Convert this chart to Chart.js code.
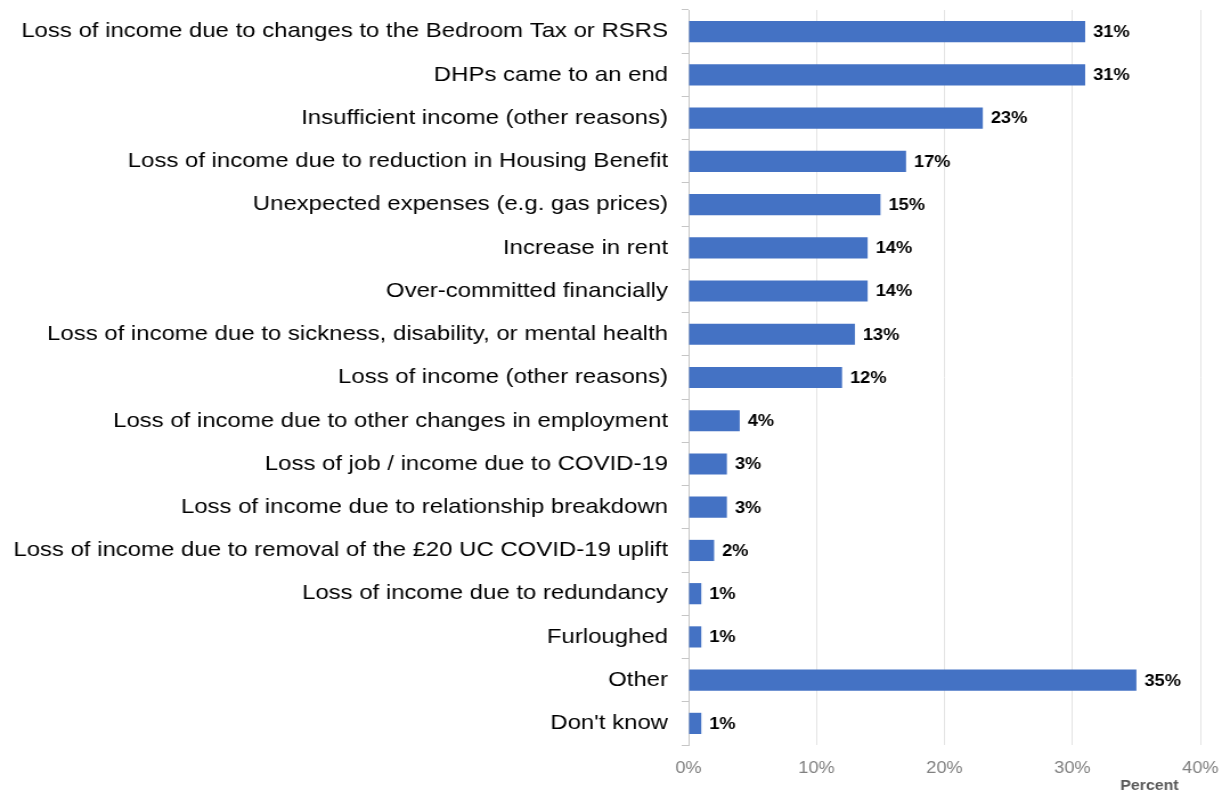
<!DOCTYPE html>
<html>
<head>
<meta charset="utf-8">
<script src="https://cdn.jsdelivr.net/npm/chart.js@4/dist/chart.umd.min.js"></script>
<style>
  html, body { margin: 0; padding: 0; background: #ffffff; overflow: hidden; }
  /* the chart is laid out on a narrower canvas and widened to the full page width */
  #wrap { width: 1072px; height: 792px; transform: scaleX(1.13993); transform-origin: 0 0; }
  #chart { width: 1072px; height: 792px; display: block; }
</style>
</head>
<body>
<div id="wrap"><canvas id="chart" width="1072" height="792"></canvas></div>
<script>
// Reasons given for falling into rent arrears (percent of respondents)
const categories = [
  "Loss of income due to changes to the Bedroom Tax or RSRS",
  "DHPs came to an end",
  "Insufficient income (other reasons)",
  "Loss of income due to reduction in Housing Benefit",
  "Unexpected expenses (e.g. gas prices)",
  "Increase in rent",
  "Over-committed financially",
  "Loss of income due to sickness, disability, or mental health",
  "Loss of income (other reasons)",
  "Loss of income due to other changes in employment",
  "Loss of job / income due to COVID-19",
  "Loss of income due to relationship breakdown",
  "Loss of income due to removal of the £20 UC COVID-19 uplift",
  "Loss of income due to redundancy",
  "Furloughed",
  "Other",
  "Don't know"
];
const percentValues = [31, 31, 23, 17, 15, 14, 14, 13, 12, 4, 3, 3, 2, 1, 1, 35, 1];
const axisTicks = [0, 10, 20, 30, 40];
const axisTitle = "Percent";

const FONT = "'Liberation Sans', Arial, sans-serif";

// Bold value labels drawn just past the end of each bar
const valueLabels = {
  id: 'valueLabels',
  afterDatasetsDraw(chart) {
    const ctx = chart.ctx;
    const meta = chart.getDatasetMeta(0);
    ctx.save();
    ctx.font = "bold 16px " + FONT;
    ctx.fillStyle = '#000000';
    ctx.textAlign = 'left';
    ctx.textBaseline = 'middle';
    meta.data.forEach((bar, i) => {
      ctx.fillText(percentValues[i] + '%', bar.x + 7, bar.y + 1);
    });
    ctx.restore();
  }
};

// Axis title placed under the right end of the value axis
const axisTitlePlugin = {
  id: 'axisTitlePlugin',
  afterDraw(chart) {
    const ctx = chart.ctx;
    const area = chart.chartArea;
    ctx.save();
    ctx.font = "bold 14px " + FONT;
    ctx.fillStyle = '#595959';
    ctx.textAlign = 'right';
    ctx.textBaseline = 'middle';
    ctx.fillText(axisTitle, area.right - 19, 786);
    ctx.restore();
  }
};

new Chart(document.getElementById('chart'), {
  type: 'bar',
  data: {
    labels: categories,
    datasets: [{
      data: percentValues,
      backgroundColor: '#4472C4',
      borderWidth: 0,
      categoryPercentage: 1.0,
      barPercentage: 0.49
    }]
  },
  options: {
    indexAxis: 'y',
    responsive: false,
    animation: false,
    devicePixelRatio: 1,
    layout: { padding: { top: 10, right: 19, left: 0, bottom: 0 } },
    plugins: {
      legend: { display: false },
      tooltip: { enabled: false }
    },
    scales: {
      x: {
        type: 'linear',
        min: axisTicks[0],
        max: axisTicks[axisTicks.length - 1],
        afterBuildTicks(scale) {
          scale.ticks = axisTicks.map(v => ({ value: v }));
        },
        afterFit(scale) {
          scale.height = 47;
          scale.paddingLeft = 0;
          scale.paddingRight = 0;
        },
        grid: {
          color: '#e4e4e4',
          lineWidth: 1,
          drawTicks: false
        },
        border: { display: false },
        ticks: {
          padding: 14,
          color: '#808080',
          font: { family: FONT, size: 16 },
          callback: v => v + '%'
        }
      },
      y: {
        afterFit(scale) {
          scale.width = 604;
          scale.paddingTop = 0;
          scale.paddingBottom = 0;
        },
        grid: {
          offset: true,
          drawOnChartArea: false,
          drawTicks: true,
          tickLength: 6,
          color: '#c6c6c6'
        },
        border: { display: true, color: '#c6c6c6' },
        ticks: {
          padding: 12,
          color: '#000000',
          autoSkip: false,
          font: { family: FONT, size: 21 }
        }
      }
    }
  },
  plugins: [valueLabels, axisTitlePlugin]
});
</script>
</body>
</html>
